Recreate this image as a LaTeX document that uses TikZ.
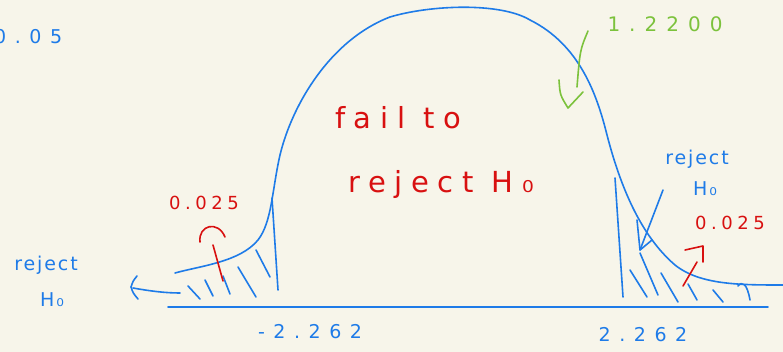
\documentclass[tikz,border=0pt]{standalone}
\usepackage{fontspec}
\setmainfont{DejaVu Sans}
\newfontfamily\handS{DejaVu Sans}[LetterSpace=10]
\newfontfamily\handA{DejaVu Sans}[LetterSpace=25]
\newfontfamily\handM{DejaVu Sans}[LetterSpace=30]
\newfontfamily\handW{DejaVu Sans}[LetterSpace=45]
\definecolor{bg}{HTML}{F7F5EA}
\definecolor{pen}{HTML}{1E7BE8}
\definecolor{redpen}{HTML}{D81010}
\definecolor{greenpen}{HTML}{7CC23C}
\tikzset{
  stroke/.style={line width=1.6pt, line cap=round, line join=round},
  bluestroke/.style={stroke, draw=pen},
  redstroke/.style={stroke, draw=redpen},
  greenstroke/.style={stroke, draw=greenpen},
  bluelbl/.style={text=pen, font=\handS\fontsize{19}{21}\selectfont, inner sep=0pt},
  bluenum/.style={text=pen, font=\handW\fontsize{19}{21}\selectfont, inner sep=0pt},
  redlbl/.style={text=redpen, font=\handM\fontsize{29}{31}\selectfont, inner sep=0pt},
  rednum/.style={text=redpen, font=\handA\fontsize{18}{20}\selectfont, inner sep=0pt},
  greenlbl/.style={text=greenpen, font=\handW\fontsize{20}{22}\selectfont, inner sep=0pt},
}
\begin{document}
\begin{tikzpicture}[x=1pt,y=-1pt]
\fill[bg] (0,0) rectangle (783,352);
\useasboundingbox (0,0) rectangle (783,352);
\clip (0,0) rectangle (783,352);

% axis
\coordinate (axL) at (168,307);
\coordinate (axR) at (768,307);
\draw[bluestroke] (axL) -- (axR);

% left tail stroke with hook
\draw[bluestroke] (137,276) .. controls (133,281) .. (131,287) .. controls (133,293) .. (138,299);
\draw[bluestroke] (133,288) .. controls (150,291) and (165,293) .. (180,293);

% main bell curve
\draw[bluestroke] (175,273) .. controls (200,266) and (240,262) .. (258,240)
  .. controls (272,222) and (272,190) .. (280,155)
  .. controls (292,105) and (330,40) .. (390,17)
  .. controls (430,5) and (500,2) .. (530,20)
  .. controls (580,45) and (597,95) .. (607,135)
  .. controls (620,185) and (640,235) .. (675,265)
  .. controls (700,285) and (740,285) .. (783,285);

% left rejection region
\draw[bluestroke] (272,198) -- (278,290);
\draw[bluestroke] (188,286) -- (200,299);
\draw[bluestroke] (205,280) -- (213,296);
\draw[bluestroke] (223,276) -- (230,294);
\draw[bluestroke] (238,267) -- (256,297);
\draw[bluestroke] (256,250) -- (270,277);

% right rejection region
\draw[bluestroke] (615,178) -- (623,297);
\draw[bluestroke] (630,270) -- (647,297);
\draw[bluestroke] (640,253) -- (658,295);
\draw[bluestroke] (661,273) -- (678,302);
\draw[bluestroke] (688,284) -- (697,300);
\draw[bluestroke] (713,290) -- (723,302);
\draw[bluestroke] (738,286) .. controls (742,281) and (747,283) .. (750,300);

% labels
\node[bluenum, anchor=west] (alpha) at (-6,37) {0.05};
\node[bluelbl, anchor=center] (rejL1) at (46,265) {reject};
\node[bluelbl, anchor=center] (rejL2) at (52,300) {H₀};
\node[bluelbl, anchor=center] (rejR1) at (697,159) {reject};
\node[bluelbl, anchor=center] (rejR2) at (705,189) {H₀};
\node[bluenum, anchor=center] (critL) at (310,332) {-2.262};
\node[bluenum, anchor=center] (critR) at (643,335) {2.262};

\node[redlbl, anchor=center] (fail) at (398,118) {fail to};
\node[redlbl, anchor=center] (rejmid) at (441,185) {reject H₀};
\node[rednum, anchor=center] (pL) at (204,203) {0.025};
\node[rednum, anchor=center] (pR) at (730,223) {0.025};

\node[greenlbl, anchor=center] (tval) at (665,24) {1.2200};

% right reject arrow (blue)
\coordinate (rA) at (663,190);
\coordinate (rB) at (640,250);
\draw[bluestroke] (rA) -- (rB);
\draw[bluestroke] (637,220) -- (rB) -- (652,240);

% red pointers
\draw[redstroke] (200,242) .. controls (198,225) and (218,220) .. (225,237);
\coordinate (pLa) at (213,245);
\coordinate (pLb) at (223,281);
\draw[redstroke] (pLa) -- (pLb);
\draw[redstroke] (685,250) -- (703,246) -- (703,262);
\coordinate (pRa) at (697,262);
\coordinate (pRb) at (683,286);
\draw[redstroke] (pRa) -- (pRb);

% green arrow
\coordinate (gA) at (588,31);
\coordinate (gB) at (577,87);
\draw[greenstroke] (gA) .. controls (580,50) .. (gB);
\draw[greenstroke] (559,80) .. controls (560,95) .. (568,108) -- (583,92);
\end{tikzpicture}
\end{document}
